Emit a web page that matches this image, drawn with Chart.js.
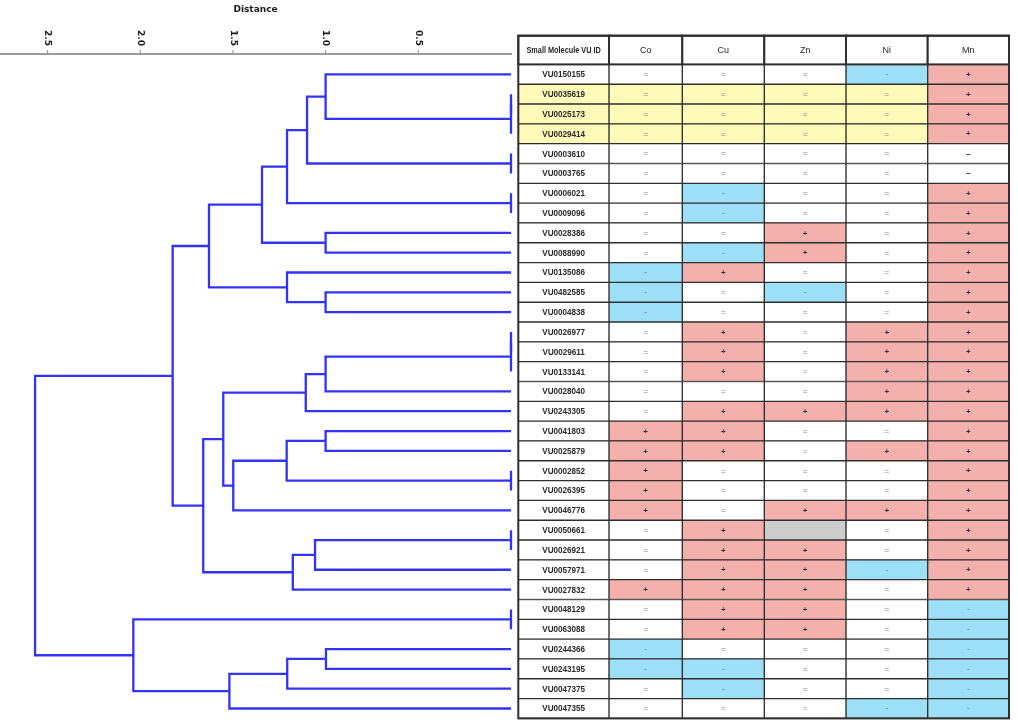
<!DOCTYPE html>
<html><head><meta charset="utf-8">
<script src="https://cdn.jsdelivr.net/npm/chart.js@4.4.1/dist/chart.umd.min.js"></script>
<style>
html,body{margin:0;padding:0;background:#fff;width:1018px;height:728px;overflow:hidden}
canvas{position:absolute;top:0}
#dendro{left:0}
#table{left:512px}
</style></head><body>
<canvas id="dendro" width="516" height="728"></canvas>
<canvas id="table" width="506" height="728"></canvas>
<script>
// ---------- DATA ----------
const ids = ['VU0150155','VU0035619','VU0025173','VU0029414','VU0003610','VU0003765','VU0006021','VU0009096',
  'VU0028386','VU0088990','VU0135086','VU0482585','VU0004838','VU0026977','VU0029611','VU0133141','VU0028040',
  'VU0243305','VU0041803','VU0025879','VU0002852','VU0026395','VU0046776','VU0050661','VU0026921','VU0057971',
  'VU0027832','VU0048129','VU0063088','VU0244366','VU0243195','VU0047375','VU0047355'];
const idHeader = 'Small Molecule VU ID';
const metals = ['Co','Cu','Zn','Ni','Mn'];
const co = ['=','=','=','=','=','=','=','=','=','=','-','-','-','=','=','=','=','=','+','+','+','+','+','=','=','=','+','=','=','-','-','=','='];
const cu = ['=','=','=','=','=','=','-','-','=','-','+','=','=','+','+','+','=','+','+','+','=','=','=','+','+','+','+','+','+','=','-','-','='];
const zn = ['=','=','=','=','=','=','=','=','+','+','=','-','=','=','=','=','=','+','=','=','=','=','+','','+','+','+','+','+','=','=','=','='];
const ni = ['-','=','=','=','=','=','=','=','=','=','=','=','=','+','+','+','+','+','=','+','=','=','+','=','=','-','=','=','=','=','=','=','-'];
const mn = ['+','+','+','+','–','–','+','+','+','+','+','+','+','+','+','+','+','+','+','+','+','+','+','+','+','+','+','-','-','-','-','-','-'];
const highlightRows = ['VU0035619','VU0025173','VU0029414'];
// hierarchical clustering linkage (index < 33 = leaf row, 33+k = k-th merge)
const mergeA = [1,33,0,4,35,6,37,8,39,11,10,41,13,45,46,47,18,20,49,51,48,23,54,55,53,44,27,29,60,61,59,58];
const mergeB = [2,3,34,5,36,7,38,9,40,12,42,43,14,15,16,17,19,21,50,22,52,24,25,26,56,57,28,30,31,32,62,63];
const mergeDist = [0,0,1.0,0,1.10,0,1.208,1.0,1.343,1.0,1.208,1.629,0,0,1.0,1.107,1.0,0,1.21,1.498,1.552,0,1.057,1.177,1.66,1.825,0,0.998,1.207,1.519,2.037,2.567];
const distanceTicks = [0.5,1.0,1.5,2.0,2.5];
const distanceTitle = 'Distance';

// ---------- LAYOUT / STYLE ----------
const ROW_TOP = 64.4, ROW_BOTTOM = 718.4, AXIS_Y = 54, HEADER_TOP = 35.7;
const DENDRO_RIGHT = 511, DIST_MAX = 511/185.4;
const COL_EDGES = [0, 90.7, 164, 246, 327.7, 409.4, 490.7];
const LINE_BLUE = '#3232f8';
const COLORS = {'+':'#f3b0ac','-':'#9ddff6','':'#cdcdcd'};
const YELLOW = '#fffab8';
const GRID = '#2e2e2e';

// ---------- DENDROGRAM ----------
const n = ids.length;
const nodeY = ids.map((_, i) => i);
const nodeH = ids.map(() => 0);
const segments = [];
mergeA.forEach((a, k) => {
  const b = mergeB[k], h = mergeDist[k];
  const ya = nodeY[a], yb = nodeY[b];
  segments.push([{x:nodeH[a], y:ya},{x:h, y:ya},{x:h, y:yb},{x:nodeH[b], y:yb}]);
  nodeY.push((ya + yb) / 2);
  nodeH.push(h);
});

const axisPlugin = {
  id: 'distanceAxis',
  afterDraw(chart) {
    const ctx = chart.ctx, xs = chart.scales.x;
    ctx.save();
    ctx.strokeStyle = '#9c9c9c';
    ctx.lineWidth = 2;
    ctx.beginPath();
    ctx.moveTo(0, AXIS_Y);
    ctx.lineTo(xs.getPixelForValue(0) + 1, AXIS_Y);
    ctx.stroke();
    ctx.lineWidth = 1.2;
    ctx.fillStyle = '#1a1a1a';
    ctx.font = 'bold 9px "DejaVu Sans"';
    distanceTicks.forEach(t => {
      const px = xs.getPixelForValue(t);
      ctx.beginPath();
      ctx.moveTo(px, AXIS_Y - 4);
      ctx.lineTo(px, AXIS_Y);
      ctx.stroke();
      ctx.save();
      ctx.translate(px, AXIS_Y - 8);
      ctx.rotate(Math.PI / 2);
      ctx.textAlign = 'right';
      ctx.textBaseline = 'middle';
      ctx.fillText(t.toFixed(1), 0, 0);
      ctx.restore();
    });
    ctx.textAlign = 'center';
    ctx.textBaseline = 'middle';
    ctx.fillText(distanceTitle, (xs.left + xs.right) / 2, 10);
    ctx.restore();
  }
};

new Chart(document.getElementById('dendro'), {
  type: 'scatter',
  data: {
    datasets: segments.map(seg => ({
      data: seg, showLine: true, borderColor: LINE_BLUE, borderWidth: 2.3,
      pointRadius: 0, fill: false, tension: 0, clip: false,
      borderCapStyle: 'butt', borderJoinStyle: 'miter'
    }))
  },
  options: {
    responsive: false, animation: false, events: [],
    layout: { padding: { left: 0, right: 516 - DENDRO_RIGHT, top: ROW_TOP, bottom: 728 - ROW_BOTTOM } },
    plugins: { legend: { display: false }, tooltip: { enabled: false } },
    scales: {
      x: { type: 'linear', reverse: true, min: 0, max: DIST_MAX, display: false },
      y: { type: 'linear', reverse: true, min: -0.5, max: n - 0.5, display: false }
    }
  },
  plugins: [axisPlugin]
});

// ---------- TABLE ----------
const metalValues = [co, cu, zn, ni, mn];
const headers = [idHeader].concat(metals);
function cellColor(i, j) {
  if (j > 0) {
    const v = metalValues[j - 1][i];
    if (COLORS[v] !== undefined) return COLORS[v];
  }
  return highlightRows.includes(ids[i]) ? YELLOW : '#ffffff';
}
function cellText(i, j) { return j === 0 ? ids[i] : metalValues[j - 1][i]; }
function condensedText(ctx, text, x, y, sx) {
  ctx.save();
  ctx.translate(x, y);
  ctx.scale(sx, 1);
  ctx.fillText(text, 0, 0);
  ctx.restore();
}

const tablePlugin = {
  id: 'tableText',
  afterDatasetsDraw(chart) {
    const ctx = chart.ctx, xs = chart.scales.x, area = chart.chartArea;
    ctx.save();
    ctx.textAlign = 'center'; ctx.textBaseline = 'middle';
    // header
    for (let j = 0; j < headers.length; j++) {
      const x0 = xs.getPixelForValue(COL_EDGES[j]), x1 = xs.getPixelForValue(COL_EDGES[j + 1]);
      ctx.fillStyle = '#fff';
      ctx.fillRect(x0, HEADER_TOP, x1 - x0, area.top - HEADER_TOP);
      ctx.strokeStyle = GRID; ctx.lineWidth = 2;
      ctx.strokeRect(x0, HEADER_TOP, x1 - x0, area.top - HEADER_TOP);
      ctx.fillStyle = '#262626';
      const cy = (HEADER_TOP + area.top) / 2 + 0.5;
      if (j === 0) {
        ctx.font = 'bold 8.5px "Liberation Sans"';
        condensedText(ctx, headers[j], (x0 + x1) / 2, cy, 0.86);
      } else {
        ctx.font = '9px "Liberation Sans"';
        ctx.fillText(headers[j], (x0 + x1) / 2, cy);
      }
    }
    // cell texts
    chart.data.datasets.forEach((ds, j) => {
      chart.getDatasetMeta(j).data.forEach((el, i) => {
        const t = cellText(i, j);
        if (!t) return;
        const cx = (el.x + el.base) / 2;
        if (j === 0) {
          ctx.font = 'bold 9px "Liberation Sans"'; ctx.fillStyle = '#2a2a2a';
          condensedText(ctx, t, cx, el.y + 0.5, 0.9);
          return;
        }
        if (t === '+') { ctx.font = 'bold 8px "Liberation Sans"'; ctx.fillStyle = '#333'; }
        else if (t === '–') { ctx.font = 'bold 9px "Liberation Sans"'; ctx.fillStyle = '#444'; }
        else { ctx.font = '8.5px "Liberation Sans"'; ctx.fillStyle = '#858585'; }
        ctx.fillText(t, cx, el.y + 0.5);
      });
    });
    // outer frame
    ctx.strokeStyle = GRID; ctx.lineWidth = 2;
    ctx.strokeRect(area.left, HEADER_TOP, area.right - area.left, area.bottom - HEADER_TOP);
    ctx.restore();
  }
};

new Chart(document.getElementById('table'), {
  type: 'bar',
  data: {
    labels: ids,
    datasets: headers.map((h, j) => ({
      label: h,
      data: ids.map(() => [COL_EDGES[j], COL_EDGES[j + 1]]),
      backgroundColor: ids.map((_, i) => cellColor(i, j)),
      borderColor: GRID, borderWidth: 1, borderSkipped: false,
      barPercentage: 1, categoryPercentage: 1, grouped: false
    }))
  },
  options: {
    indexAxis: 'y', responsive: false, animation: false, events: [],
    layout: { padding: { left: 518.3 - 512, right: 1018 - 1009, top: ROW_TOP, bottom: 728 - ROW_BOTTOM } },
    plugins: { legend: { display: false }, tooltip: { enabled: false } },
    scales: {
      x: { type: 'linear', min: 0, max: COL_EDGES[COL_EDGES.length - 1], display: false },
      y: { type: 'category', offset: true, display: false }
    }
  },
  plugins: [tablePlugin]
});
</script>
</body></html>
